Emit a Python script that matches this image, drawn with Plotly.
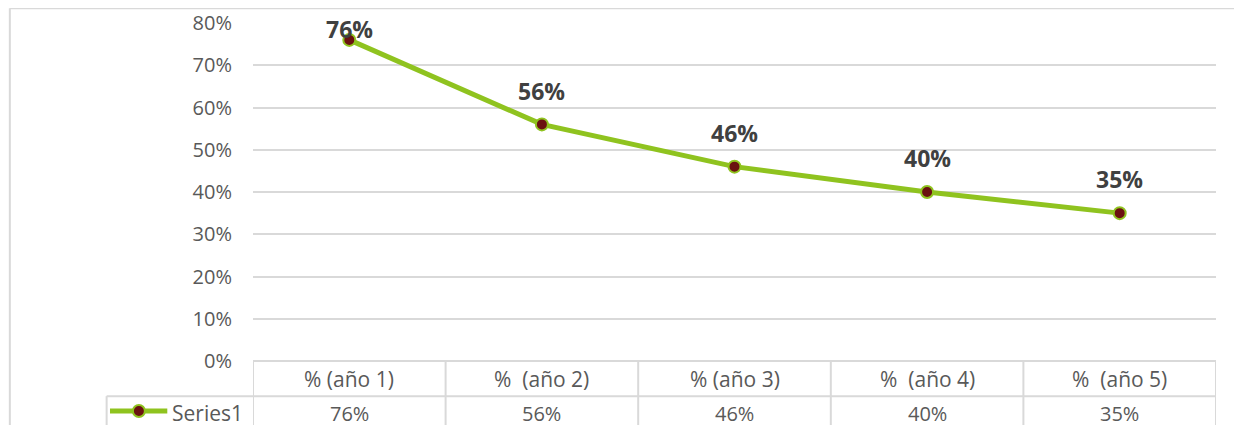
import plotly.graph_objects as go

# data
years = ["% (año 1)", "%\u00a0 (año 2)", "% (año 3)", "%\u00a0 (año 4)", "%\u00a0 (año 5)"]
values = [0.76, 0.56, 0.46, 0.40, 0.35]
series_name = "Series1"
y_ticks = [0, 0.1, 0.2, 0.3, 0.4, 0.5, 0.6, 0.7, 0.8]

GREEN = "#8FC31F"
MAROON = "#6B1210"
GRID = "#D9D9D9"
TXT = "#595959"
FONT = "Open Sans"

# table geometry, in y-domain units (plot area is ~338 px tall)
HEADER_H = 0.104
ROW_H = 0.21
LEG_X = -0.152  # left edge of the legend cell, paper units

fig = go.Figure()
fig.add_trace(
    go.Scatter(
        x=years,
        y=values,
        mode="lines+markers",
        name=series_name,
        line=dict(color=GREEN, width=5),
        marker=dict(size=12, color=MAROON, line=dict(color=GREEN, width=2)),
        showlegend=False,
    )
)

# data labels above points (Excel pushes the top one down inside the chart)
for cat, v in zip(years, values):
    fig.add_annotation(
        x=cat, y=min(v + 0.08, 0.785), xref="x", yref="y",
        text=f"<b>{v:.0%}</b>", showarrow=False, yanchor="middle",
        font=dict(family=FONT, size=23, color="#404040"),
    )

# data table under the plot
n = len(years)
line_style = dict(color=GRID, width=2)
for i in range(n + 1):
    fig.add_shape(type="line", xref="x", yref="y domain",
                  x0=i - 0.5, x1=i - 0.5, y0=0, y1=-ROW_H, line=line_style)
fig.add_shape(type="line", xref="x", yref="y domain",
              x0=-0.5, x1=n - 0.5, y0=0, y1=0, line=line_style)
fig.add_shape(type="line", xref="paper", yref="y domain",
              x0=LEG_X, x1=1, y0=-HEADER_H, y1=-HEADER_H, line=line_style)
fig.add_shape(type="line", xref="paper", yref="y domain",
              x0=LEG_X, x1=LEG_X, y0=-HEADER_H, y1=-ROW_H, line=line_style)
for cat, v in zip(years, values):
    fig.add_annotation(x=cat, y=-0.052, xref="x", yref="y domain",
                       text=cat, showarrow=False, yanchor="middle",
                       font=dict(family=FONT, size=21, color=TXT))
    fig.add_annotation(x=cat, y=-0.154, xref="x", yref="y domain",
                       text=f"{v:.0%}", showarrow=False, yanchor="middle",
                       font=dict(family=FONT, size=20, color=TXT))

# legend key drawn inside the table's first column
fig.add_shape(type="line", xref="paper", yref="y domain",
              x0=LEG_X + 0.0035, x1=LEG_X + 0.063, y0=-0.148, y1=-0.148,
              line=dict(color=GREEN, width=5))
fig.add_shape(type="circle", xref="paper", yref="y domain",
              xsizemode="pixel", ysizemode="pixel",
              xanchor=LEG_X + 0.0335, yanchor=-0.148,
              x0=-6, x1=6, y0=-6, y1=6,
              fillcolor=MAROON, line=dict(color=GREEN, width=2))
fig.add_annotation(x=LEG_X + 0.066, y=-0.154, xref="paper", yref="y domain",
                   text=series_name, showarrow=False, xanchor="left", yanchor="middle",
                   font=dict(family=FONT, size=21, color=TXT))

# outer chart frame
fig.add_shape(type="line", xref="paper", yref="paper",
              x0=-0.2525, x1=1.1, y0=1.044, y1=1.044, line=line_style)
fig.add_shape(type="line", xref="paper", yref="paper",
              x0=-0.2525, x1=-0.2525, y0=1.044, y1=-0.3, line=line_style)

# page body adds an 8px offset, margins compensate for it
fig.update_layout(
    width=1242,
    height=425,
    margin=dict(l=245, r=34, t=15, b=72),
    paper_bgcolor="white",
    plot_bgcolor="white",
    font=dict(family=FONT, size=18, color=TXT),
    showlegend=False,
    xaxis=dict(
        range=[-0.5, n - 0.5], showticklabels=False, showgrid=False,
        zeroline=False, showline=False, fixedrange=True, automargin=False,
    ),
    yaxis=dict(
        range=[0, 0.8], tickvals=y_ticks, tickformat=".0%",
        showgrid=True, gridcolor=GRID, gridwidth=2, zeroline=False,
        showline=False, ticklabelstandoff=20, automargin=False,
        tickfont=dict(family=FONT, size=20, color=TXT),
    ),
)

fig.write_html("out.html")
